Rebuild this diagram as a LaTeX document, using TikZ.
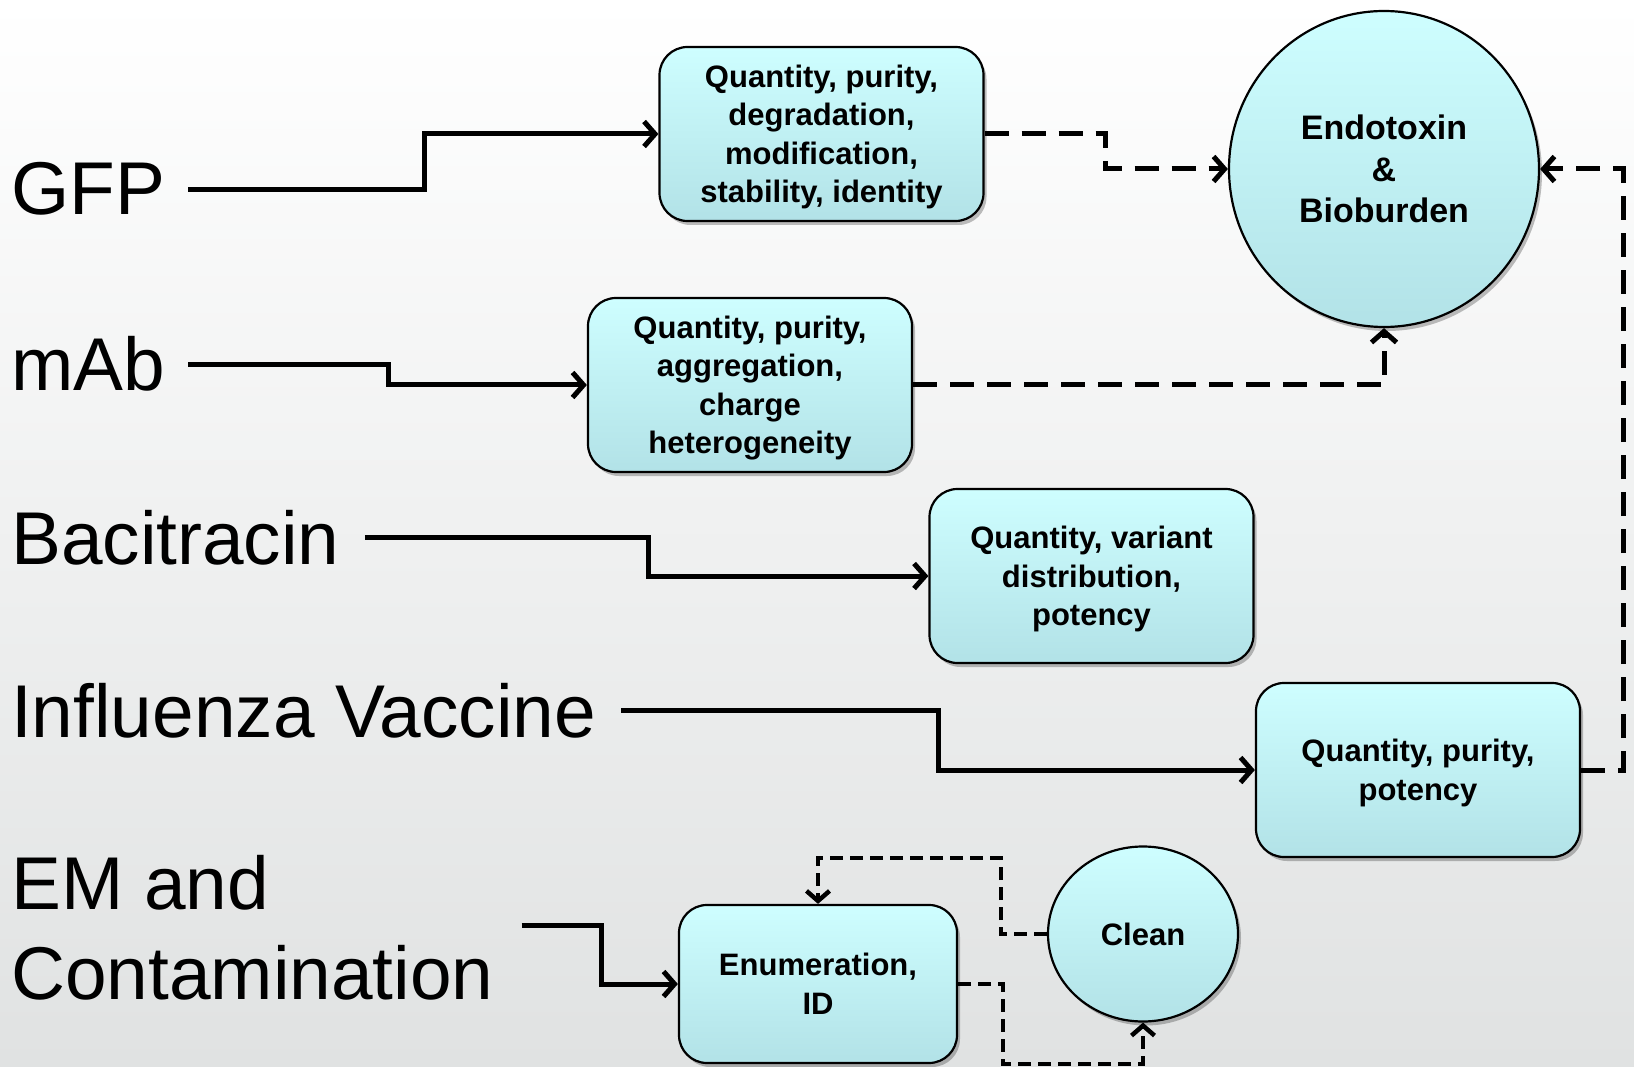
\documentclass[tikz,border=0pt]{standalone}
\usepackage{fontspec}
\setmainfont{Liberation Sans}
\usetikzlibrary{arrows.meta,shadows,calc,shapes.geometric}
\definecolor{boxtop}{RGB}{206,254,255}
\definecolor{boxbot}{RGB}{178,226,231}
\definecolor{bgbot}{RGB}{224,226,226}
\begin{document}
\begin{tikzpicture}[x=1pt,y=-1pt,
  lbl/.style={inner sep=0pt,font=\fontsize{74.8}{90}\selectfont},
  boxfont/.style={font=\bfseries\fontsize{31}{38.5}\selectfont},
  shade box/.style={draw=black,line width=2.2pt,top color=boxtop,bottom color=boxbot,
    drop shadow={shadow xshift=3pt,shadow yshift=-4pt,fill=black,opacity=0.25},
    align=center,inner sep=0pt,text depth=0pt,boxfont},
  rbox/.style={shade box,rounded corners=28pt,minimum width=324pt,minimum height=174pt},
  ell/.style={shade box,ellipse},
  solidarrow/.style={line width=5pt,-{Straight Barb[length=11pt,width=25pt]}},
  bigdash/.style={line width=5pt,dash pattern=on 24pt off 13pt,-{Straight Barb[length=11pt,width=25pt]}},
  smalldash/.style={line width=4.5pt,dash pattern=on 13pt off 7pt,-{Straight Barb[length=10pt,width=23pt]}}
]
\useasboundingbox (0,0) rectangle (1634,1067);
\shade[top color=white,bottom color=bgbot] (0,0) rectangle (1634,1067);

% left labels
\node[lbl,anchor=base west] (gfp) at (11,215) {GFP};
\node[lbl,anchor=base west] (mab) at (11,391) {mAb};
\node[lbl,anchor=base west] (bac) at (11,564) {Bacitracin};
\node[lbl,anchor=base west] (flu) at (11,737) {Influenza Vaccine};
\node[lbl,anchor=west,align=left] (em) at (11,928) {EM and\\Contamination};

% boxes
\node[rbox] (gfpbox) at (821.5,134) {Quantity, purity,\\degradation,\\modification,\\stability, identity};
\node[rbox] (mabbox) at (750,385) {Quantity, purity,\\aggregation,\\charge\\heterogeneity};
\node[rbox] (bacbox) at (1091.5,576) {Quantity, variant\\distribution,\\potency};
\node[rbox] (flubox) at (1418,770) {Quantity, purity,\\potency};
\node[shade box,rounded corners=28pt,minimum width=278pt,minimum height=158pt] (enumbox) at (818,984) {Enumeration,\\ID};

% circles
\node[ell,minimum width=310pt,minimum height=316pt,font=\bfseries\fontsize{34}{41.5}\selectfont] (endo) at (1384,169) {Endotoxin\\\&\\Bioburden};
\node[ell,minimum width=190pt,minimum height=175pt] (clean) at (1143,934) {Clean};

% solid connectors
\draw[solidarrow] ([xshift=23pt]gfp.east) -- ++(236,0) |- (gfpbox.west);
\draw[solidarrow] ([xshift=23pt]mab.east) -- ++(200,0) |- (mabbox.west);
\draw[solidarrow] ([xshift=25pt]bac.east) -- ++(284,0) |- (bacbox.west);
\draw[solidarrow] ([xshift=25pt]flu.east) -- ++(317,0) |- (flubox.west);
\draw[solidarrow] ([xshift=28pt,yshift=3pt]em.east) -- ++(80,0) |- (enumbox.west);

% dashed connectors
\draw[bigdash] (gfpbox.east) -- ++(121,0) |- (endo.west);
\draw[bigdash] (mabbox.east) -| (endo.south);
\draw[bigdash] (flubox.east) -- ++(42,0) |- (endo.east);
\draw[smalldash] (clean.west) -- ++(-46,0) -- ++(0,-76) -| (enumbox.north);
\draw[smalldash] (enumbox.east) -- ++(45,0) -- ++(0,80) -| (clean.south);
\end{tikzpicture}
\end{document}
